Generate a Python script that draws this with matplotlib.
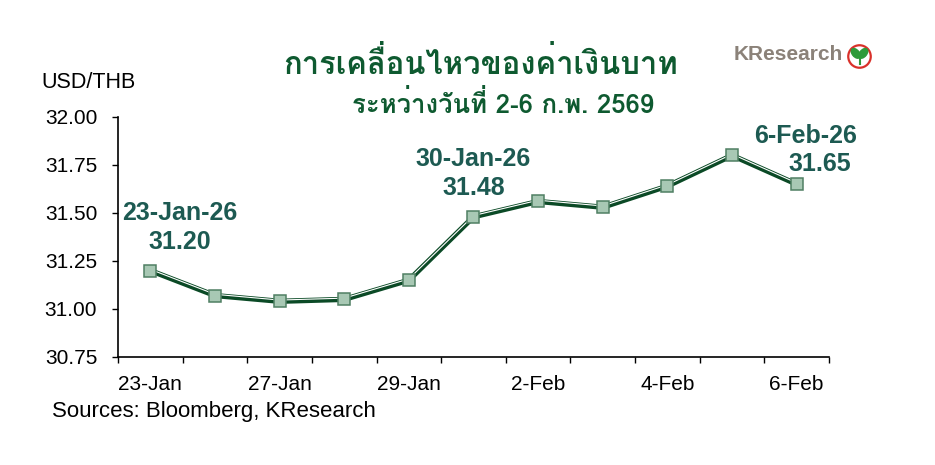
import matplotlib
matplotlib.use('Agg')
import matplotlib.pyplot as plt
import matplotlib.transforms as mtransforms
from matplotlib import font_manager
from matplotlib.ft2font import FT2Font
from matplotlib.patches import Circle, Ellipse

# data
dates = ['23-Jan', '26-Jan', '27-Jan', '28-Jan', '29-Jan', '30-Jan',
         '2-Feb', '3-Feb', '4-Feb', '5-Feb', '6-Feb']
usd_thb = [31.20, 31.07, 31.04, 31.05, 31.15, 31.48, 31.56, 31.53, 31.64, 31.80, 31.65]
year_suffix = '26'
labelled = [0, 5, 10]
yticks = [30.75, 31.00, 31.25, 31.50, 31.75, 32.00]

title = 'การเคลื่อนไหวของค่าเงินบาท'
subtitle = 'ระหว่างวันที่ 2-6 ก.พ. 2569'
unit = 'USD/THB'
source = 'Sources: Bloomberg, KResearch'


def thai_font():
    # find any installed family that can draw Thai
    for f in font_manager.fontManager.ttflist:
        try:
            if 0x0E01 in FT2Font(f.fname).get_charmap():
                return f.name
        except Exception:
            pass
    return 'DejaVu Sans'


plt.rcParams['font.family'] = ['Liberation Sans', 'DejaVu Sans']
thai = thai_font()

green = '#0e5a30'
teal = '#1d5a52'
line_col = '#0b4a26'

fig = plt.figure(figsize=(9.35, 4.65), dpi=100)
ax = fig.add_axes([0.1262, 0.2323, 0.7604, 0.5161])

x = list(range(len(dates)))
ax.plot(x, usd_thb, color=line_col, lw=3.8, solid_joinstyle='miter', zorder=2)
shift = mtransforms.offset_copy(ax.transData, fig=fig, x=0, y=0.9, units='points')
ax.plot(x, usd_thb, color='white', lw=0.8, transform=shift, zorder=3)
ax.plot(x, usd_thb, ls='none', marker='s', ms=8.6, mfc='#a8c8b4', mec='#4f7f63',
        mew=1.1, zorder=4)

ax.set_xlim(-0.5, len(dates) - 0.5)
ax.set_ylim(30.75, 32.0)
ax.set_yticks(yticks)
ax.set_yticklabels([f'{v:.2f}' for v in yticks])
ax.set_xticks([i - 0.5 for i in range(len(dates) + 1)])
ax.set_xticklabels([])
ax.set_xticks(x[::2], minor=True)
ax.set_xticklabels(dates[::2], minor=True)
ax.tick_params(axis='x', which='major', length=4.5, width=1, color='black')
ax.tick_params(axis='x', which='minor', length=0, pad=13, labelsize=15)
ax.tick_params(axis='y', length=4.5, width=1, pad=10.5, labelsize=15)
for s in ['top', 'right']:
    ax.spines[s].set_visible(False)
for s in ['left', 'bottom']:
    ax.spines[s].set_linewidth(1.2)

# point labels: (dx date, dy date, dx value, dy value)
offsets = {0: (0.46, 0.30, 0.46, 0.15), 5: (0, 0.30, 0, 0.15), 10: (0.14, 0.25, 0.36, 0.105)}
for i in labelled:
    dx1, dy1, dx2, dy2 = offsets[i]
    ax.text(i + dx1, usd_thb[i] + dy1, f'{dates[i]}-{year_suffix}', ha='center', va='center',
            fontsize=18, fontweight='bold', color=teal)
    ax.text(i + dx2, usd_thb[i] + dy2, f'{usd_thb[i]:.2f}', ha='center', va='center',
            fontsize=18, fontweight='bold', color=teal)

fig.text(481 / 935, 1 - 63 / 465, title, ha='center', va='center', fontsize=22.3,
         fontweight='bold', color=green, family=[thai, 'DejaVu Sans'])
fig.text(503 / 935, 1 - 104 / 465, subtitle, ha='center', va='center', fontsize=18.5,
         fontweight='bold', color=green, family=[thai, 'DejaVu Sans'])
fig.text(41 / 935, 1 - 83 / 465, unit, ha='left', va='center', fontsize=15.5)
fig.text(52 / 935, 1 - 411 / 465, source, ha='left', va='center', fontsize=16)

# logo
fig.text(734 / 935, 1 - 54 / 465, 'KResearch', ha='left', va='center', fontsize=15,
         fontweight='bold', color='#8b8279')
lax = fig.add_axes([847 / 935, 1 - 69 / 465, 25 / 935, 25 / 465])
lax.set_xlim(-1, 1)
lax.set_ylim(-1, 1)
lax.axis('off')
lax.add_patch(Circle((0, 0), 0.9, fill=False, ec='#d9312a', lw=1.6))
lax.add_patch(Ellipse((-0.3, 0.25), 0.55, 0.9, angle=40, color='#2e9a3a'))
lax.add_patch(Ellipse((0.3, 0.25), 0.55, 0.9, angle=-40, color='#2e9a3a'))
lax.plot([0, 0], [-0.1, -0.6], color='#2e9a3a', lw=1.5)

fig.savefig('out.png', dpi=100)
